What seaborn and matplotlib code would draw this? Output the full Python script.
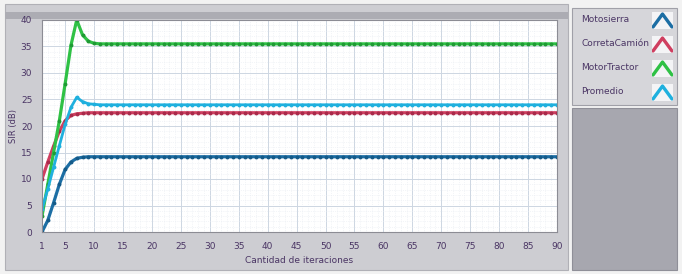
import matplotlib
matplotlib.use("Agg")
import matplotlib.pyplot as plt
import matplotlib.patches as mpatches
from matplotlib.ticker import MultipleLocator
import seaborn as sns
import pandas as pd

# iterations 1..90
iteraciones = list(range(1, 91))

# values (first iterations, then the steady value)
motosierra = [0.0, 2.2, 5.5, 9.0, 11.8, 13.2, 13.9, 14.1, 14.2] + [14.2] * 81
correta_camion = [10.0, 13.2, 16.2, 19.0, 21.0, 22.0, 22.3, 22.4, 22.5] + [22.5] * 81
motor_tractor = [3.0, 9.0, 15.0, 21.0, 28.0, 35.2, 40.0, 37.2, 36.0, 35.6] + [35.5] * 80
promedio = [4.3, 8.1, 12.2, 16.3, 20.3, 23.5, 25.4, 24.6, 24.2, 24.1] + [24.0] * 80

series = ["Motosierra", "CorretaCamión", "MotorTractor", "Promedio"]
colores = ["#1c6ea4", "#cf3f60", "#2fc145", "#1fb0de"]
bordes = ["#145a88", "#a82a4a", "#1f9a34", "#1fb0de"]

x_ticks = [1] + list(range(5, 91, 5))
y_ticks = list(range(0, 41, 5))

df = pd.DataFrame({
    "iter": iteraciones * 4,
    "sir": motosierra + correta_camion + motor_tractor + promedio,
    "serie": sum([[s] * 90 for s in series], []),
})

sns.set_style("white")
plt.rcParams["font.family"] = ["Liberation Sans Narrow", "DejaVu Sans"]
txt_color = "#4a3564"

fig = plt.figure(figsize=(6.82, 2.74), dpi=100)
fig.patch.set_facecolor("#f2f2f2")


def panel(x, y, w, h, fc, ec="none"):
    # rectangle in pixel units (top-left origin)
    fig.patches.append(mpatches.Rectangle((x / 682, 1 - (y + h) / 274), w / 682, h / 274,
                                          transform=fig.transFigure, facecolor=fc,
                                          edgecolor=ec, lw=0.8, zorder=-10))


panel(5, 4, 563, 266, "#cdcdd2", "#b0b0b6")
panel(5, 12, 563, 7, "#acacb3")
panel(572, 8, 105, 97, "#d6d6da", "#a0a0a8")
panel(572, 108, 105, 162, "#a7a7af", "#8f8f98")

ax = fig.add_axes([42 / 682, 42 / 274, 515 / 682, 212 / 274])
ax.set_facecolor("white")

for s, c, b in zip(series, colores, bordes):
    lw = 2.0 if s == "Promedio" else 2.3
    sns.lineplot(data=df[df["serie"] == s], x="iter", y="sir", ax=ax, color=c,
                 lw=lw, marker="o", ms=2.8, mfc=b, mec=b, mew=0, legend=False)

ax.set_xlim(1, 90)
ax.set_ylim(0, 40)
ax.set_xticks(x_ticks)
ax.set_yticks(y_ticks)
ax.xaxis.set_minor_locator(MultipleLocator(1))
ax.yaxis.set_minor_locator(MultipleLocator(1))
ax.grid(which="major", color="#cdd6e2", lw=0.7)
ax.grid(which="minor", color="#e8ecf2", lw=0.5, ls=":")
ax.set_axisbelow(True)
ax.tick_params(axis="both", which="major", labelsize=6.5, colors="#6a6a7a",
               labelcolor=txt_color, length=3, width=0.8, direction="out", pad=4)
ax.tick_params(which="minor", length=0)
for sp in ax.spines.values():
    sp.set_color("#8c8c94")
    sp.set_linewidth(0.8)

ax.set_xlabel("Cantidad de iteraciones", fontsize=6.5, color=txt_color, labelpad=4)
ax.set_ylabel("SIR (dB)", fontsize=6, color=txt_color, labelpad=2)

# legend with chevron icons
ys = [20, 44, 68, 92]
for s, c, y in zip(series, colores, ys):
    fig.text(581 / 682, 1 - y / 274, s, fontsize=6.5, color=txt_color, va="center")
    iax = fig.add_axes([652 / 682, 1 - (y + 9) / 274, 21 / 682, 17 / 274])
    iax.set_facecolor("#f4f4f6")
    iax.plot([0.05, 0.5, 0.95], [0.12, 0.88, 0.12], color=c, lw=2.4)
    iax.set_xlim(0, 1)
    iax.set_ylim(0, 1)
    iax.set_xticks([])
    iax.set_yticks([])
    for sp in iax.spines.values():
        sp.set_visible(False)

fig.savefig("out.png", dpi=100, facecolor=fig.get_facecolor())
